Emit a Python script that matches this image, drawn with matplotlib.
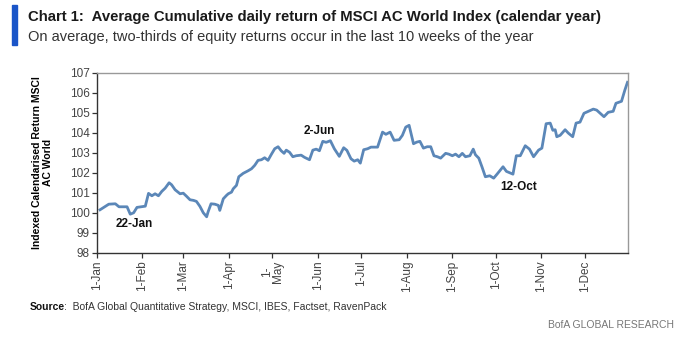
import matplotlib
matplotlib.use("Agg")
import matplotlib.pyplot as plt
from matplotlib.patches import Rectangle
import numpy as np

# ---- data (day of year offset from 1-Jan, index value) ----
days = [2, 8, 12.5, 15, 17, 20.5, 22.7, 25, 27.3, 33, 35.2, 37.5, 39.7, 42, 44.3, 46.6,
        49.3, 51, 53.4, 56.8, 59, 61.3, 63.6, 66, 68, 70.4, 72.7, 75, 76, 78, 80.6, 83,
        84, 86.4, 88.6, 89.8, 92, 93.2, 95.4, 97, 100, 103.4, 105.7, 107.9, 110.2, 112.5,
        114.7, 117, 119.3, 121.6, 123.9, 126, 128, 129.5, 131.8, 134, 136.3, 139.7, 142,
        145.4, 147.7, 150, 152.2, 154.5, 156.8, 159.7, 162.4, 165.8, 168.8, 171, 173.8,
        176, 178.4, 180.2, 182.5, 185.2, 187.5, 192, 195.4, 197.7, 200.6, 203.3, 206.8,
        209, 211.3, 213.6, 216.6, 218.8, 221, 223.4, 226, 228.4, 230.6, 233, 235.2, 238.6,
        240.8, 243.2, 245.4, 247.7, 250, 252.2, 255.2, 257.5, 259, 261.3, 263.6, 265.8,
        268.8, 271.5, 273.8, 277.9, 280.2, 284.7, 287, 289.7, 293.1, 296, 298.8, 302.2,
        304.5, 307.4, 310.2, 312, 313.6, 314.7, 317, 320.4, 322.6, 325.6, 327.9, 330.6,
        333.3, 336.3, 339.7, 342, 347, 349.9, 353.3, 355.2, 359, 361.3, 363.1]
values = [100.15, 100.43, 100.45, 100.3, 100.3, 100.3, 99.93, 100.0, 100.27, 100.33, 100.97,
          100.85, 100.95, 100.85, 101.07, 101.23, 101.5, 101.4, 101.15, 100.95, 100.98,
          100.82, 100.65, 100.62, 100.57, 100.32, 100.0, 99.8, 100.05, 100.45, 100.43,
          100.37, 100.12, 100.7, 100.87, 100.95, 101.03, 101.2, 101.37, 101.8, 101.97,
          102.1, 102.2, 102.37, 102.62, 102.65, 102.75, 102.62, 102.92, 103.2, 103.3,
          103.1, 102.97, 103.13, 103.02, 102.8, 102.85, 102.88, 102.77, 102.65, 103.13,
          103.18, 103.1, 103.57, 103.52, 103.6, 103.2, 102.82, 103.25, 103.12, 102.7,
          102.58, 102.65, 102.48, 103.15, 103.2, 103.28, 103.28, 104.03, 103.92, 104.03,
          103.62, 103.65, 103.87, 104.28, 104.37, 103.45, 103.53, 103.57, 103.23, 103.3,
          103.3, 102.85, 102.8, 102.73, 102.97, 102.93, 102.85, 102.93, 102.8, 102.97,
          102.8, 102.85, 103.18, 102.9, 102.73, 102.27, 101.8, 101.85, 101.73, 101.93,
          102.3, 102.07, 101.93, 102.85, 102.85, 103.35, 103.18, 102.8, 103.13, 103.23,
          104.45, 104.48, 104.12, 104.15, 103.8, 103.87, 104.15, 103.98, 103.8, 104.48,
          104.53, 104.97, 105.07, 105.18, 105.13, 104.8, 105.02, 105.07, 105.47, 105.57,
          106.13, 106.52]

tick_days = [0, 31, 59, 90, 120, 151, 181, 212, 243, 273, 304, 334]
tick_labels = ["1-Jan", "1-Feb", "1-Mar", "1-Apr", "1-\nMay", "1-Jun", "1-Jul", "1-Aug",
               "1-Sep", "1-Oct", "1-Nov", "1-Dec"]
y_ticks = list(range(98, 108))

annot_text = ["22-Jan", "2-Jun", "12-Oct"]
annot_day = [25.6, 152, 288.4]
annot_val = [99.44, 104.1, 101.29]

title = "Chart 1:  Average Cumulative daily return of MSCI AC World Index (calendar year)"
subtitle = "On average, two-thirds of equity returns occur in the last 10 weeks of the year"
ylabel = "Indexed Calendarised Return MSCI\nAC World"

FONT = ["Liberation Sans Narrow", "Liberation Sans", "DejaVu Sans"]
plt.rcParams["font.family"] = FONT

fig = plt.figure(figsize=(6.79, 3.38), dpi=100)
ax = fig.add_axes([0.143, 0.252, 0.782, 0.533])

ax.plot(days, values, color="#5b87b8", lw=2.0, solid_joinstyle="round")
ax.set_xlim(0, 363.5)
ax.set_ylim(98, 107)
ax.set_yticks(y_ticks)
ax.set_yticklabels([str(v) for v in y_ticks], fontsize=8.5, color="#444444")
ax.set_xticks(tick_days)
ax.set_xticklabels(tick_labels, rotation=90, fontsize=8.5, color="#444444",
                   linespacing=0.9, va="top", ha="center")
ax.tick_params(axis="both", direction="out", length=3.5, width=0.9, color="#333333", pad=2)
for s in ["top", "right"]:
    ax.spines[s].set_color("#999999")
    ax.spines[s].set_linewidth(1.0)
for s in ["left", "bottom"]:
    ax.spines[s].set_color("#333333")
    ax.spines[s].set_linewidth(1.0)

ax.set_ylabel(ylabel, fontsize=7.5, fontweight="bold", linespacing=1.1, labelpad=12)

for t, d, v in zip(annot_text, annot_day, annot_val):
    ax.text(d, v, t, fontsize=8.5, fontweight="bold", ha="center", va="center", color="#111111")

# header
fig.patches.append(Rectangle((12 / 679, 1 - 45 / 338), 5 / 679, 40 / 338,
                             transform=fig.transFigure, color="#1a55c8", zorder=5))
fig.text(28 / 679, 1 - 17 / 338, title, fontsize=10.7, fontweight="bold", color="#1a1a1a",
         va="center", ha="left")
fig.text(28 / 679, 1 - 37 / 338, subtitle, fontsize=10.5, color="#333333",
         va="center", ha="left")

# footer
fig.text(30 / 679, 1 - 307 / 338, "Source", fontsize=7.5, fontweight="bold", color="#111111",
         va="center", ha="left")
fig.text(64 / 679, 1 - 307 / 338, ":  BofA Global Quantitative Strategy, MSCI, IBES, Factset, RavenPack",
         fontsize=7.5, color="#333333", va="center", ha="left")
fig.text(674 / 679, 1 - 325 / 338, "BofA GLOBAL RESEARCH", fontsize=7.5, color="#777777",
         va="center", ha="right")

fig.savefig("out.png", dpi=100)
